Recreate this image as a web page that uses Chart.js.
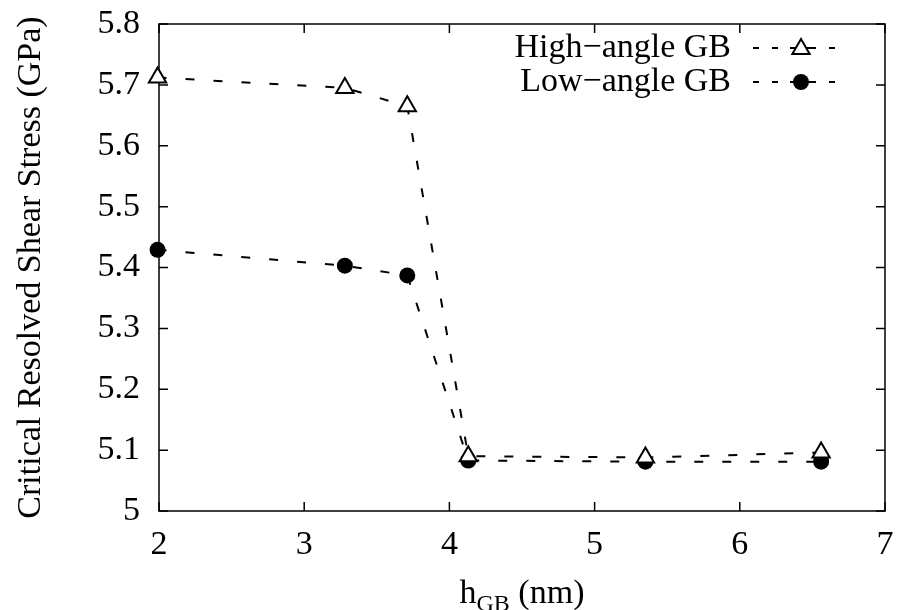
<!DOCTYPE html>
<html>
<head>
<meta charset="utf-8">
<script src="https://cdn.jsdelivr.net/npm/chart.js@4"></script>
<style>
  html, body { margin: 0; padding: 0; background: #fff; }
  #wrap { width: 901px; height: 610px; }
</style>
</head>
<body>
<div id="wrap"><canvas id="chart" width="901" height="610"></canvas></div>
<script>
// values
const hGB = [1.99, 3.28, 3.71, 4.13, 5.35, 6.56];
const highAngle = [5.712, 5.695, 5.665, 5.090, 5.088, 5.096];
const lowAngle = [5.429, 5.403, 5.387, 5.083, 5.081, 5.081];
const xTicks = [2, 3, 4, 5, 6, 7];
const yTicks = [5, 5.1, 5.2, 5.3, 5.4, 5.5, 5.6, 5.7, 5.8];
const seriesNames = ['High\u2212angle GB', 'Low\u2212angle GB'];

const FONT = 'Liberation Serif';

function pts(ys) {
    return hGB.map((x, i) => ({ x: x, y: ys[i] }));
}

function drawTriangle(ctx, x, y, r) {
    ctx.beginPath();
    ctx.moveTo(x, y - r);
    ctx.lineTo(x + Math.sin(2 * Math.PI / 3) * r, y + 0.5 * r);
    ctx.lineTo(x - Math.sin(2 * Math.PI / 3) * r, y + 0.5 * r);
    ctx.closePath();
    ctx.fillStyle = '#fff';
    ctx.fill();
    ctx.stroke();
}

// box round the plot, with inward ticks on all four sides
const frame = {
    id: 'frame',
    beforeDatasetsDraw(chart) {
        const ctx = chart.ctx;
        const a = chart.chartArea;
        const xs = chart.scales.x, ys = chart.scales.y;
        ctx.save();
        ctx.strokeStyle = '#000';
        ctx.lineWidth = 1.5;
        ctx.strokeRect(a.left, a.top, a.right - a.left, a.bottom - a.top);
        ctx.beginPath();
        xTicks.forEach(v => {
            const px = xs.getPixelForValue(v);
            ctx.moveTo(px, a.bottom); ctx.lineTo(px, a.bottom - 9);
            ctx.moveTo(px, a.top); ctx.lineTo(px, a.top + 9);
        });
        yTicks.forEach(v => {
            const py = ys.getPixelForValue(v);
            ctx.moveTo(a.left, py); ctx.lineTo(a.left + 9, py);
            ctx.moveTo(a.right, py); ctx.lineTo(a.right - 9, py);
        });
        ctx.stroke();
        ctx.restore();
    },
    afterDraw(chart) {
        const ctx = chart.ctx;
        const a = chart.chartArea;
        ctx.save();
        // x axis title with subscript
        const big = '34px "' + FONT + '"', small = '24px "' + FONT + '"';
        ctx.font = big; const w1 = ctx.measureText('h').width;
        const w3 = ctx.measureText(' (nm)').width;
        ctx.font = small; const w2 = ctx.measureText('GB').width;
        let x0 = (a.left + a.right) / 2 - (w1 + w2 + w3) / 2;
        const base = 603;
        ctx.fillStyle = '#000';
        ctx.textBaseline = 'alphabetic';
        ctx.textAlign = 'left';
        ctx.font = big; ctx.fillText('h', x0, base);
        ctx.font = small; ctx.fillText('GB', x0 + w1, base + 8);
        ctx.font = big; ctx.fillText(' (nm)', x0 + w1 + w2, base);

        // legend
        const rows = [48, 82];
        ctx.font = big;
        ctx.textAlign = 'right';
        ctx.textBaseline = 'middle';
        rows.forEach((y, i) => {
            ctx.fillText(seriesNames[i], 731, y);
            ctx.strokeStyle = '#000';
            ctx.lineWidth = 2;
            ctx.setLineDash([6, 13]);
            ctx.beginPath();
            ctx.moveTo(753, y); ctx.lineTo(845, y);
            ctx.stroke();
            ctx.setLineDash([]);
            ctx.beginPath();
            ctx.moveTo(790, y); ctx.lineTo(812, y);
            ctx.stroke();
            if (i === 0) {
                drawTriangle(ctx, 801, y + 1, 10);
            } else {
                ctx.beginPath();
                ctx.arc(801, y, 8, 0, Math.PI * 2);
                ctx.fillStyle = '#000';
                ctx.fill();
            }
            ctx.fillStyle = '#000';
        });
        ctx.restore();
    }
};

const ctx = document.getElementById('chart').getContext('2d');
new Chart(ctx, {
    type: 'line',
    data: {
        datasets: [{
            label: seriesNames[0],
            data: pts(highAngle),
            borderColor: '#000',
            borderWidth: 2,
            borderDash: [9, 19],
            pointStyle: 'triangle',
            pointRadius: 10,
            pointBackgroundColor: '#fff',
            pointBorderColor: '#000',
            pointBorderWidth: 2,
            tension: 0,
            clip: false
        }, {
            label: seriesNames[1],
            data: pts(lowAngle),
            borderColor: '#000',
            borderWidth: 2,
            borderDash: [9, 19],
            pointStyle: 'circle',
            pointRadius: 8,
            pointBackgroundColor: '#000',
            pointBorderColor: '#000',
            pointBorderWidth: 0,
            tension: 0,
            clip: false
        }]
    },
    options: {
        responsive: false,
        animation: false,
        layout: { padding: { top: 24, right: 16, left: 0, bottom: 0 } },
        plugins: {
            legend: { display: false },
            tooltip: { enabled: false }
        },
        scales: {
            x: {
                type: 'linear',
                min: 2,
                max: 7,
                afterFit: s => { s.height = 99; s.paddingLeft = 0; s.paddingRight = 0; },
                afterBuildTicks: s => { s.ticks = xTicks.map(v => ({ value: v })); },
                grid: { display: false, drawTicks: false },
                border: { display: false },
                ticks: {
                    padding: 14,
                    color: '#000',
                    font: { family: FONT, size: 34 },
                    callback: v => String(v)
                }
            },
            y: {
                type: 'linear',
                min: 5,
                max: 5.8,
                afterFit: s => { s.width = 159; s.paddingTop = 0; s.paddingBottom = 0; },
                afterBuildTicks: s => { s.ticks = yTicks.map(v => ({ value: v })); },
                grid: { display: false, drawTicks: false },
                border: { display: false },
                ticks: {
                    padding: 19,
                    color: '#000',
                    font: { family: FONT, size: 34 },
                    callback: v => (Math.abs(v - 5) < 1e-9 ? '5' : Number(v).toFixed(1))
                },
                title: {
                    display: true,
                    text: 'Critical Resolved Shear Stress (GPa)',
                    color: '#000',
                    font: { family: FONT, size: 34 },
                    padding: { top: 11, bottom: 0 }
                }
            }
        }
    },
    plugins: [frame]
});
</script>
</body>
</html>
